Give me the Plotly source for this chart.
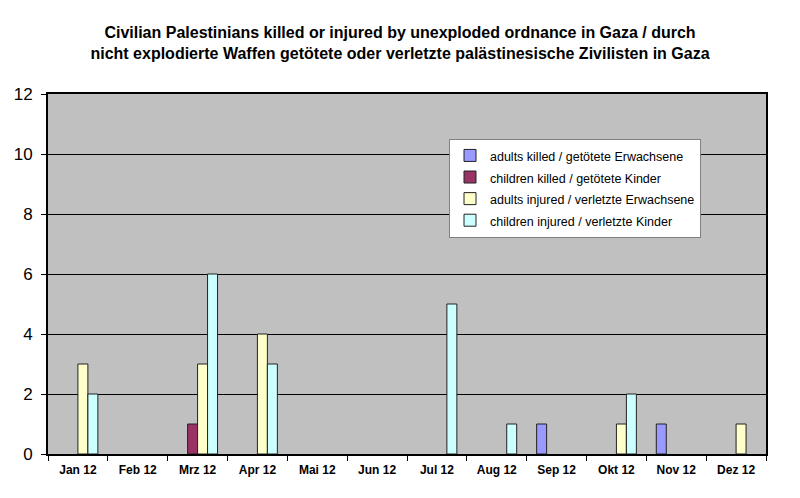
import plotly.graph_objects as go

months = ["Jan 12", "Feb 12", "Mrz 12", "Apr 12", "Mai 12", "Jun 12",
          "Jul 12", "Aug 12", "Sep 12", "Okt 12", "Nov 12", "Dez 12"]
adults_killed = [0, 0, 0, 0, 0, 0, 0, 0, 1, 0, 1, 0]
children_killed = [0, 0, 1, 0, 0, 0, 0, 0, 0, 0, 0, 0]
adults_injured = [3, 0, 3, 4, 0, 0, 0, 0, 0, 1, 0, 1]
children_injured = [2, 0, 6, 3, 0, 0, 5, 1, 0, 2, 0, 0]

series = [
    ("adults killed / getötete Erwachsene", adults_killed, "#9999FF"),
    ("children killed / getötete Kinder", children_killed, "#993366"),
    ("adults injured / verletzte Erwachsene", adults_injured, "#FFFFCC"),
    ("children injured / verletzte Kinder", children_injured, "#CCFFFF"),
]

fig = go.Figure()
for name, vals, col in series:
    fig.add_trace(go.Bar(
        x=months, y=[v if v else None for v in vals],
        name='<span style="font-size:12.5px">' + name + '</span>',
        marker=dict(color=col, line=dict(color="#222222", width=1)),
    ))

fig.update_layout(
    width=800, height=498,
    paper_bgcolor="white", plot_bgcolor="#C0C0C0",
    margin=dict(l=48, r=34, t=94, b=44),
    barmode="group", bargap=0.333, bargroupgap=0,
    font=dict(family="Arial, Liberation Sans, sans-serif", color="black"),
    title=dict(
        text="<b>Civilian Palestinians killed or injured by unexploded ordnance in Gaza / durch<br>nicht explodierte Waffen getötete oder verletzte palästinesische Zivilisten in Gaza</b>",
        x=0.5, xanchor="center", y=0.923, yanchor="top",
        font=dict(size=16, family="Arial, Liberation Sans, sans-serif"),
    ),
    legend=dict(
        x=0.5585, y=0.876, xanchor="left", yanchor="top",
        bgcolor="white", bordercolor="#808080", borderwidth=1,
        font=dict(size=14.3, family="Arial, Liberation Sans, sans-serif"),
        itemwidth=30,
    ),
    showlegend=True,
)
fig.update_xaxes(
    showline=True, linecolor="black", linewidth=2, mirror=True,
    ticks="outside", tickson="boundaries", ticklen=5, tickcolor="black",
    tickfont=dict(size=12, family="Arial, Liberation Sans, sans-serif"),
    tickprefix="<b>", ticksuffix="</b>", ticklabelstandoff=4,
    showgrid=False, automargin=False,
)
fig.update_yaxes(
    range=[0, 12], dtick=2, showline=True, linecolor="black", linewidth=2, mirror=True,
    ticks="outside", ticklen=5, tickcolor="black",
    showgrid=True, gridcolor="black", gridwidth=1, ticklabelstandoff=5,
    tickfont=dict(size=17), zeroline=False, automargin=False,
)
fig.write_html("out.html", config={"displayModeBar": False},
               post_script="document.body.style.margin='0';")
